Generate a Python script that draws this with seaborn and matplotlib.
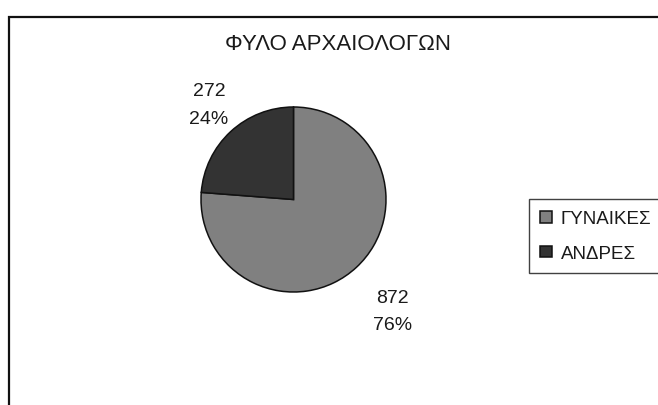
import numpy as np
import seaborn as sns
import matplotlib.pyplot as plt
from matplotlib.patches import Rectangle

# --- Data ---
categories = ['ΓΥΝΑΙΚΕΣ', 'ΑΝΔΡΕΣ']
counts = [872, 272]
title = 'ΦΥΛΟ ΑΡΧΑΙΟΛΟΓΩΝ'

sns.set_theme(style='white')
plt.rcParams['font.family'] = ['Liberation Sans', 'DejaVu Sans']

colors = ['#808080', '#333333']
label_dist = [1.64, 1.4]

W, H = 658, 406
fig = plt.figure(figsize=(W / 100, H / 100), dpi=100)
fig.patch.set_facecolor('white')

# outer chart frame (right/bottom edges fall outside the picture)
fig.add_artist(Rectangle((9 / W, -0.2), 1.2, 1.2 - 18 / H,
                         transform=fig.transFigure, fill=False,
                         edgecolor='#111111', linewidth=1.6))

r = 92.5
cx, cy = 293.5, 200.5
ax = fig.add_axes([(cx - r) / W, (H - cy - r) / H, 2 * r / W, 2 * r / H])

total = sum(counts)
pcts = [round(100 * c / total) for c in counts]
wedges, texts = ax.pie(counts, colors=colors, startangle=90, counterclock=False,
                       wedgeprops=dict(edgecolor='#111111', linewidth=1.1),
                       labels=[f'{c}\n{p}%' for c, p in zip(counts, pcts)])
ax.set_xlim(-1, 1)
ax.set_ylim(-1, 1)
ax.set_aspect('auto')

for w, t, d in zip(wedges, texts, label_dist):
    ang = np.deg2rad((w.theta1 + w.theta2) / 2)
    t.set_position((d * np.cos(ang) * 0.96, d * np.sin(ang)))
    t.set_ha('center')
    t.set_va('center')
    t.set_fontsize(14)
    t.set_color('#1a1a1a')
    t.set_linespacing(1.8)

fig.text(338 / W, 1 - 45 / H, title, ha='center', va='center',
         fontsize=16, color='#1a1a1a')

leg = fig.legend(wedges, categories, loc='upper left',
                 bbox_to_anchor=(529 / W, 1 - 200 / H),
                 fontsize=13.5, frameon=True, fancybox=False,
                 edgecolor='#111111', handlelength=0.6, handleheight=0.6,
                 handletextpad=0.5, labelspacing=0.95, borderpad=0.6,
                 borderaxespad=0)
leg.get_frame().set_linewidth(1.0)
for txt in leg.get_texts():
    txt.set_color('#1a1a1a')

fig.savefig('out.png', dpi=100)
